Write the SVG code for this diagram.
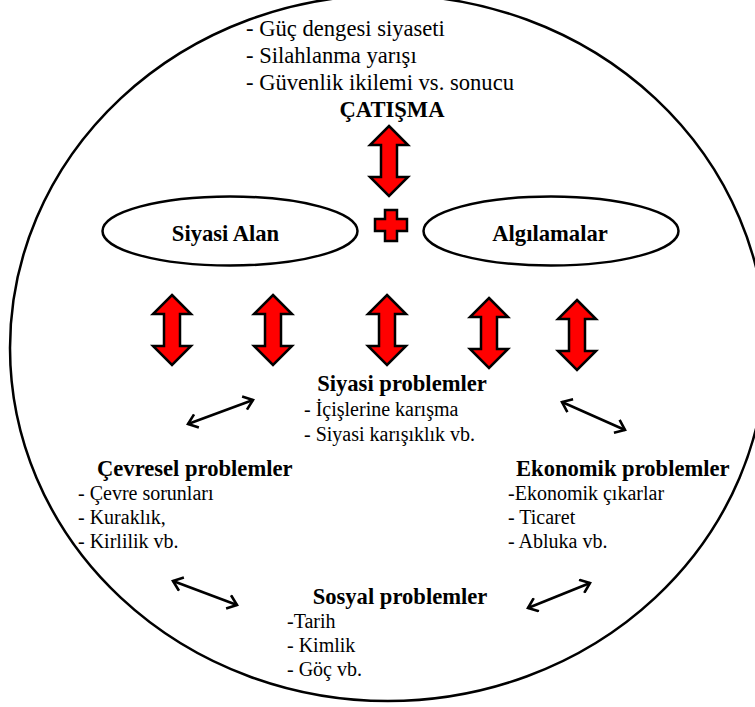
<svg xmlns="http://www.w3.org/2000/svg" width="755" height="707" viewBox="0 0 755 707">
<style>
text{font-family:'Liberation Serif','DejaVu Serif',serif;fill:#000}
.reg{font-size:20px}
.top{font-size:22.6px}
.bold{font-size:22.6px;font-weight:bold}
.ell{fill:#fff;stroke:#000;stroke-width:2.5}
.red{fill:#f00;stroke:#000;stroke-width:2.5;stroke-linejoin:miter}
.conn{stroke:#000;stroke-width:2.6;fill:none;marker-start:url(#ah);marker-end:url(#ah)}
</style>
<defs>
<path id="darr" d="M0,-35 L19,-16 L8,-16 L8,16 L19,16 L0,35 L-19,16 L-8,16 L-8,-16 L-19,-16 Z"/>
<marker id="ah" viewBox="0 0 14 16" refX="12" refY="8" markerWidth="14" markerHeight="16" markerUnits="userSpaceOnUse" orient="auto-start-reverse">
<path d="M3,1 L12,8 L3,15" fill="none" stroke="#000" stroke-width="2.6"/>
</marker>
</defs>
<ellipse id="outer" cx="388" cy="348" rx="378" ry="353" fill="none" stroke="#000" stroke-width="2.5"/>
<g id="catisma">
<text class="top" x="246" y="36">- Güç dengesi siyaseti</text>
<text class="top" x="246" y="63">- Silahlanma yarışı</text>
<text class="top" x="246" y="90">- Güvenlik ikilemi vs. sonucu</text>
<text class="bold" x="392" y="117" text-anchor="middle">ÇATIŞMA</text>
</g>
<g id="siyasi-alan">
<ellipse class="ell" cx="230" cy="231" rx="127.5" ry="34.5"/>
<text class="bold" x="225.5" y="241" text-anchor="middle">Siyasi Alan</text>
</g>
<g id="plus">
<path class="red" d="M385,210 H397 V219 H407 V231 H397 V241 H385 V231 H375 V219 H385 Z"/>
</g>
<g id="algilamalar">
<ellipse class="ell" cx="551" cy="231" rx="127.5" ry="34.5"/>
<text class="bold" x="550" y="241" text-anchor="middle">Algılamalar</text>
</g>
<g id="siyasi-problemler">
<text class="bold" x="402" y="391" text-anchor="middle">Siyasi problemler</text>
<text class="reg" x="304" y="416">- İçişlerine karışma</text>
<text class="reg" x="304" y="441">- Siyasi karışıklık vb.</text>
</g>
<g id="cevresel">
<text class="bold" x="97" y="476">Çevresel problemler</text>
<text class="reg" x="78" y="500">- Çevre sorunları</text>
<text class="reg" x="78" y="524">- Kuraklık,</text>
<text class="reg" x="78" y="548">- Kirlilik vb.</text>
</g>
<g id="ekonomik">
<text class="bold" x="516" y="476">Ekonomik problemler</text>
<text class="reg" x="508" y="500">-Ekonomik çıkarlar</text>
<text class="reg" x="508" y="524">- Ticaret</text>
<text class="reg" x="508" y="548">- Abluka vb.</text>
</g>
<g id="sosyal">
<text class="bold" x="400" y="604" text-anchor="middle">Sosyal problemler</text>
<text class="reg" x="287" y="628">-Tarih</text>
<text class="reg" x="287" y="652">- Kimlik</text>
<text class="reg" x="287" y="676">- Göç vb.</text>
</g>
<g id="connectors">
<use href="#darr" class="red" transform="translate(389,161)"/>
<use href="#darr" class="red" transform="translate(172,330)"/>
<use href="#darr" class="red" transform="translate(273,330)"/>
<use href="#darr" class="red" transform="translate(387,330)"/>
<use href="#darr" class="red" transform="translate(489,333)"/>
<use href="#darr" class="red" transform="translate(577,335)"/>
<line class="conn" x1="188" y1="424" x2="253" y2="400"/>
<line class="conn" x1="562" y1="402" x2="625" y2="430"/>
<line class="conn" x1="173" y1="581" x2="237" y2="605"/>
<line class="conn" x1="528" y1="608" x2="590" y2="583"/>
</g>
</svg>
